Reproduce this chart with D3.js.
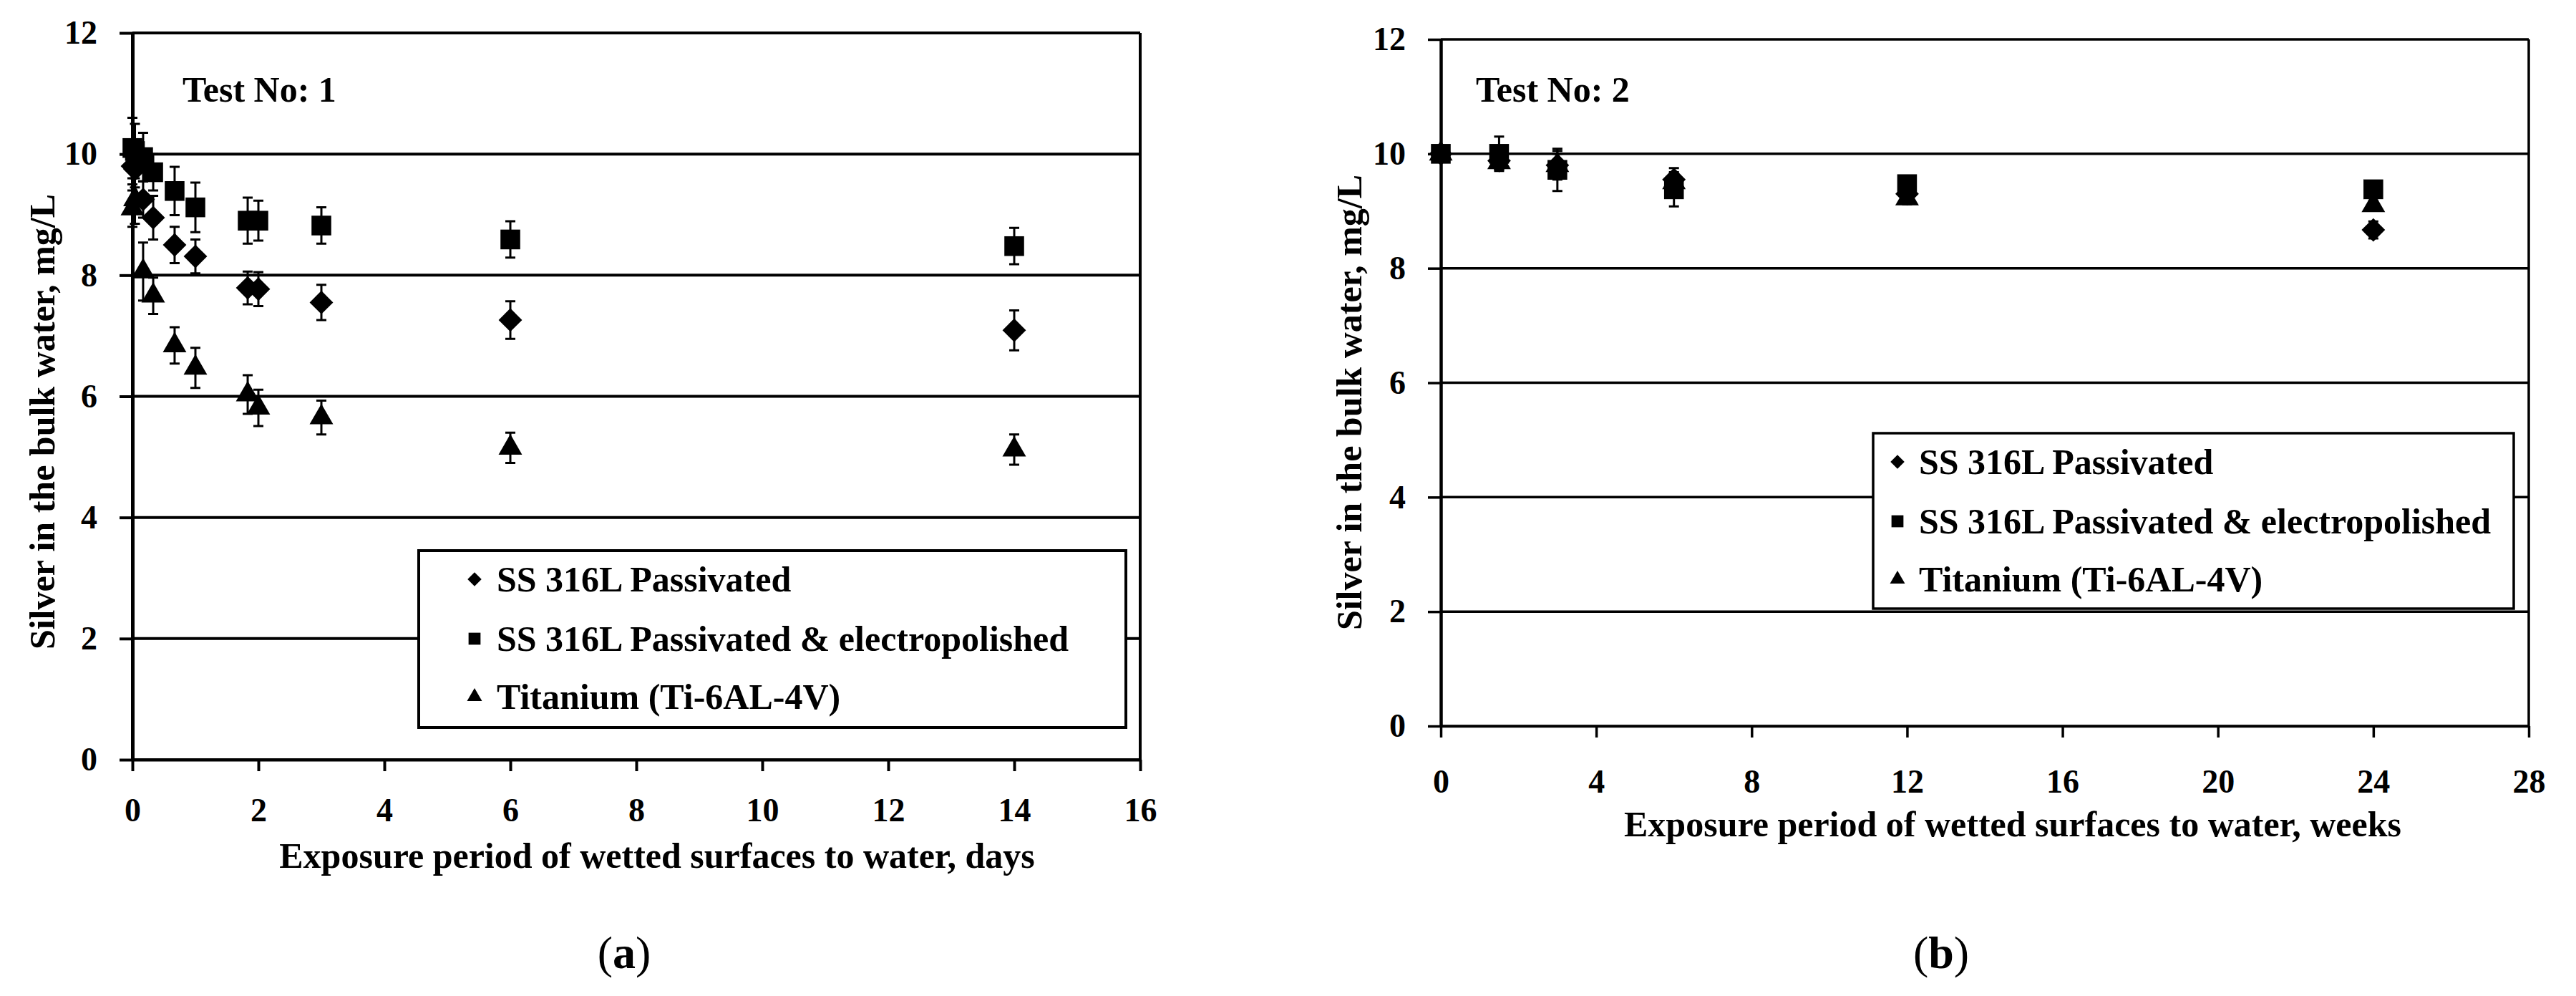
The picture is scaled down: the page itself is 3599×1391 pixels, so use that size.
<!DOCTYPE html>
<html>
<head>
<meta charset="utf-8">
<script src="https://d3js.org/d3.v7.min.js"></script>
<style>
  body { margin: 0; background: #fff; }
  text { font-family: "Liberation Serif", "Times New Roman", serif; font-weight: bold; fill: #000; }
</style>
</head>
<body>
<svg width="3599" height="1391"></svg>
<script>

// legend labels, same order in both tests
var seriesNames = ["SS 316L Passivated", "SS 316L Passivated & electropolished", "Titanium (Ti-6AL-4V)"];
var seriesShapes = ["diamond", "square", "triangle"];

// Test No: 1, exposure in days
var daysA = [0, 0.04, 0.17, 0.33, 0.67, 1, 1.83, 2, 3, 6, 14];
var passA    = [9.8, 9.75, 9.25, 8.95, 8.5, 8.31, 7.79, 7.77, 7.55, 7.26, 7.09];
var passErrA = [0.3, 0.3, 0.3, 0.36, 0.3, 0.28, 0.27, 0.28, 0.29, 0.31, 0.33];
var elecA    = [10.1, 10.05, 9.95, 9.7, 9.39, 9.12, 8.9, 8.9, 8.82, 8.59, 8.48];
var elecErrA = [0.5, 0.45, 0.4, 0.3, 0.4, 0.41, 0.38, 0.33, 0.3, 0.3, 0.3];
var tiA      = [9.1, 9.25, 8.06, 7.66, 6.84, 6.47, 6.03, 5.81, 5.65, 5.15, 5.12];
var tiErrA   = [0.3, 0.4, 0.48, 0.3, 0.3, 0.33, 0.32, 0.3, 0.28, 0.25, 0.25];

// Test No: 2, exposure in weeks
var weeksB = [0, 1.5, 3, 6, 12, 24];
var passB    = [10.0, 9.88, 9.8, 9.55, 9.3, 8.67];
var passErrB = [0.1, 0.15, 0.2, 0.2, 0.12, 0.15];
var elecB    = [10.0, 10.0, 9.72, 9.38, 9.47, 9.38];
var elecErrB = [0.12, 0.3, 0.37, 0.3, 0.12, 0.1];
var tiB      = [10.0, 9.85, 9.8, 9.5, 9.22, 9.1];
var tiErrB   = [0.1, 0.12, 0.25, 0.15, 0.1, 0.08];

var yTicks = [0, 2, 4, 6, 8, 10, 12];
var xTicksA = [0, 2, 4, 6, 8, 10, 12, 14, 16];
var xTicksB = [0, 4, 8, 12, 16, 20, 24, 28];

var yTitle = "Silver in the bulk water, mg/L";
var xTitleA = "Exposure period of wetted surfaces to water, days";
var xTitleB = "Exposure period of wetted surfaces to water, weeks";

var svg = d3.select("svg");

var panels = [
  { left: 185, right: 1593, bottom: 1061, top: 46, xMax: 16, xTicks: xTicksA, t: daysA,
    ys: [passA, elecA, tiA], errs: [passErrA, elecErrA, tiErrA],
    line: 4, xPad: 37, test: "Test No: 1", testX: 255,
    xTitle: xTitleA, xTitleX: 918, xTitleY: 1212, yTitleX: 59, yTitleY: 589,
    legend: { x: 585, y: 769, w: 988, h: 247, rows: [809, 892, 973], mx: 663, tx: 694 },
    tag: "a", tagX: 872 },
  { left: 2013, right: 3533, bottom: 1014, top: 55, xMax: 28, xTicks: xTicksB, t: weeksB,
    ys: [passB, elecB, tiB], errs: [passErrB, elecErrB, tiErrB],
    line: 3.5, xPad: 44, test: "Test No: 2", testX: 2062,
    xTitle: xTitleB, xTitleX: 2812, xTitleY: 1168, yTitleX: 1885, yTitleY: 562,
    legend: { x: 2617, y: 605, w: 895, h: 245, rows: [645, 728, 809], mx: 2651, tx: 2681 },
    tag: "b", tagX: 2712 }
];

function marker(shape, big) {
  if (shape == "diamond") return d3.symbol().type(d3.symbolSquare).size(big ? 540 : 190)();
  if (shape == "square") return d3.symbol().type(d3.symbolSquare).size(big ? 760 : 280)();
  return d3.symbol().type(d3.symbolTriangle).size(big ? 470 : 190)();
}

panels.forEach(function(p) {
  var x = d3.scaleLinear().domain([0, p.xMax]).range([p.left, p.right]);
  var y = d3.scaleLinear().domain([0, 12]).range([p.bottom, p.top]);
  var g = svg.append("g");

  // horizontal grid lines
  g.selectAll(".grid").data(yTicks).enter().append("line")
    .attr("x1", p.left).attr("x2", p.right)
    .attr("y1", function(d) { return y(d); }).attr("y2", function(d) { return y(d); })
    .style("stroke", "#000").style("stroke-width", p.line);

  // right border
  g.append("line").attr("x1", p.right).attr("x2", p.right).attr("y1", p.top).attr("y2", p.bottom)
    .style("stroke", "#000").style("stroke-width", p.line);

  var yAxis = g.append("g").attr("transform", "translate(" + p.left + ",0)")
    .call(d3.axisLeft(y).tickValues(yTicks).tickSize(18).tickSizeOuter(0).tickPadding(31));
  yAxis.select(".domain").style("stroke-width", p.line + 1);
  yAxis.selectAll(".tick line").style("stroke-width", p.line);
  yAxis.selectAll("text").style("font-size", "46px");

  var xAxis = g.append("g").attr("transform", "translate(0," + p.bottom + ")")
    .call(d3.axisBottom(x).tickValues(p.xTicks).tickSize(16).tickSizeOuter(0).tickPadding(p.xPad));
  xAxis.select(".domain").style("stroke-width", p.line);
  xAxis.selectAll(".tick line").style("stroke-width", p.line);
  xAxis.selectAll("text").style("font-size", "46px");

  // series with error bars
  p.ys.forEach(function(vals, si) {
    var pts = vals.map(function(v, i) { return { t: p.t[i], v: v, e: p.errs[si][i] }; });
    var s = g.append("g");
    s.selectAll(".err").data(pts).enter().append("path")
      .attr("d", function(d) {
        var cx = x(d.t), hi = y(d.v + d.e), lo = y(d.v - d.e);
        return "M" + cx + "," + hi + "V" + lo + "M" + (cx - 7) + "," + hi + "H" + (cx + 7) + "M" + (cx - 7) + "," + lo + "H" + (cx + 7);
      })
      .style("stroke", "#000").style("stroke-width", 3).style("fill", "none");
    s.selectAll(".pt").data(pts).enter().append("path")
      .attr("d", marker(seriesShapes[si], true))
      .attr("transform", function(d) {
        return "translate(" + x(d.t) + "," + y(d.v) + ")" + (seriesShapes[si] == "diamond" ? " rotate(45)" : "");
      })
      .style("fill", "#000");
  });

  // legend
  var L = p.legend;
  g.append("rect").attr("x", L.x).attr("y", L.y).attr("width", L.w).attr("height", L.h)
    .style("fill", "#fff").style("stroke", "#000").style("stroke-width", p.line);
  seriesNames.forEach(function(name, i) {
    g.append("path").attr("d", marker(seriesShapes[i], false))
      .attr("transform", "translate(" + L.mx + "," + L.rows[i] + ")" + (seriesShapes[i] == "diamond" ? " rotate(45)" : ""))
      .style("fill", "#000");
    g.append("text").attr("x", L.tx).attr("y", L.rows[i]).attr("dominant-baseline", "central")
      .style("font-size", "50px").text(name);
  });

  g.append("text").attr("x", p.testX).attr("y", 142).style("font-size", "50px").text(p.test);

  g.append("text").attr("x", p.xTitleX).attr("y", p.xTitleY).attr("text-anchor", "middle")
    .style("font-size", "50px").text(p.xTitle);

  g.append("text").attr("transform", "translate(" + p.yTitleX + "," + p.yTitleY + ") rotate(-90)")
    .attr("text-anchor", "middle").attr("dominant-baseline", "central")
    .style("font-size", "50px").text(yTitle);

  var tag = g.append("text").attr("x", p.tagX).attr("y", 1352).attr("text-anchor", "middle").style("font-size", "64px");
  tag.append("tspan").style("font-weight", "normal").text("(");
  tag.append("tspan").text(p.tag);
  tag.append("tspan").style("font-weight", "normal").text(")");
});

</script>
</body>
</html>
